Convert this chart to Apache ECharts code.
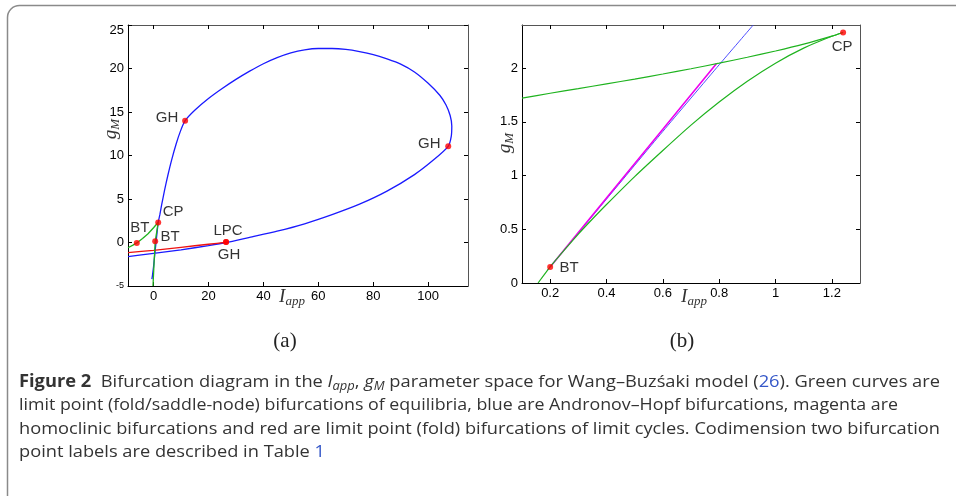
<!DOCTYPE html>
<html><head><meta charset="utf-8">
<script src="https://cdn.jsdelivr.net/npm/echarts@6/dist/echarts.min.js"></script>
<style>html,body{margin:0;padding:0;background:#fff}#c{width:956px;height:496px}</style>
</head><body><div id="c"></div>
<script>
// ---------- tick labels ----------
const xTicksA = [0, 20, 40, 60, 80, 100];
const yTicksA = [-5, 0, 5, 10, 15, 20, 25];
const xTicksB = [0.2, 0.4, 0.6, 0.8, 1, 1.2];
const yTicksB = [0, 0.5, 1, 1.5, 2];

// ---------- panel (a) curves ----------
const hopfA = [[-9.3,-1.62],[0,-1.25],[10,-0.85],[20,-0.35],[26.4,0],[35,0.6],[45,1.3],[55,2.15],[65,3.2],[75,4.4],[85,5.9],[95,7.8],[102,9.5],[107.3,11.05],[108.4,12.2],[108.6,13.4],[108.0,14.6],[106.5,15.8],[104.3,16.9],[100,18.3],[95,19.6],[90,20.5],[85,21.1],[80,21.6],[75,21.95],[70,22.2],[65,22.3],[60,22.3],[55,22.15],[50,21.8],[45,21.25],[40,20.55],[35,19.7],[30,18.75],[25,17.7],[20,16.55],[15,15.2],[11.5,14.0],[9.8,12.8],[8.2,11.3],[6.6,9.5],[5.2,7.7],[4.0,6.0],[3.0,4.4],[2.3,3.2],[1.7,2.31],[1.1,0.6],[0.5,-1.2],[0,-2.8],[-0.4,-3.8],[-0.6,-4.2]];
const lpcA = [[-9.3,-1.17],[0,-0.9],[10,-0.55],[20,-0.2],[26.4,0.03]];
const foldA = [[-9.3,-0.6],[-7.5,-0.3],[-6.1,-0.05],[-4,0.45],[-2,1.0],[0,1.7],[1.7,2.33],[1.2,1.3],[0.6,0.12],[0.2,-2.3],[-0.2,-5]];
const bifPtsA = [[-6.1,-0.07],[0.6,0.15],[1.7,2.31],[26.4,0.05],[26.4,0.05],[11.5,14.0],[107.3,11.05]];
const bifNamesA = ['BT','BT','CP','LPC','GH','GH','GH'];

// ---------- panel (b) curves ----------
const foldUpperB = [[0.1,1.72],[0.2,1.765],[0.3,1.808],[0.4,1.852],[0.5,1.897],[0.6,1.944],[0.7,1.993],[0.8,2.045],[0.9,2.10],[1.0,2.158],[1.1,2.222],[1.2,2.296],[1.24,2.33]];
const foldLowerB = [[1.24,2.33],[1.2,2.295],[1.1,2.185],[1.0,2.045],[0.9,1.877],[0.8,1.684],[0.7,1.469],[0.6,1.233],[0.5,0.99],[0.4,0.73],[0.35,0.595],[0.3,0.455],[0.25,0.305],[0.2,0.15],[0.157,0]];
const homB = [[0.2,0.148],[0.4,0.79],[0.6,1.43],[0.79,2.04]];
const hopfB = [[0.19,0.12],[0.4,0.78],[0.6,1.41],[0.8,2.03],[0.921,2.4]];
const bifPtsB = [[0.2,0.148],[1.24,2.33]];
const bifNamesB = ['BT','CP'];

// ---------- caption text ----------
const captionLines = [
  [['Figure 2','b'],['  Bifurcation diagram in the ',''],['I','i'],['app','sub'],[', ',''],['g','i'],['M','sub'],[' parameter space for Wang\u2013Buz\u015baki model (',''],['26','link'],['). Green curves are','']],
  [['limit point (fold/saddle-node) bifurcations of equilibria, blue are Andronov\u2013Hopf bifurcations, magenta are','']],
  [['homoclinic bifurcations and red are limit point (fold) bifurcations of limit cycles. Codimension two bifurcation','']],
  [['point labels are described in Table ',''],['1','link']]
];
const panelTags = ['(a)', '(b)'];

// ---------- styling / layout ----------
const labelOffsetsA = [[3,-15],[15,-4],[15,-11],[2,-11],[3,13],[-18,-3],[-19,-3]];
const labelOffsetsB = [[19,1],[-1,14]];
const captionTargets = [[19,940,382],[19,898,405.5],[19,940,429],[19,325,452.5]];

const chart = echarts.init(document.getElementById('c'), null, {renderer:'canvas'});
const SANS = '"Liberation Sans", Arial, sans-serif';
const tickFont = {fontFamily:SANS, fontSize:13, color:'#000'};

function xAx(gi, min, max, ticks, pos, show) {
  return {type:'value', gridIndex:gi, min:min, max:max, position:pos,
    axisLine:{show:true, onZero:false, lineStyle:{color: show ? '#000' : '#555', width:1}},
    axisTick:{show:true, inside:true, length:4, customValues:ticks, lineStyle:{color:'#000'}},
    axisLabel:{show:show, customValues:ticks, margin:4, ...tickFont},
    splitLine:{show:false}};
}
function yAx(gi, min, max, ticks, pos, show, rich) {
  return {type:'value', gridIndex:gi, min:min, max:max, position:pos,
    axisLine:{show:true, onZero:false, lineStyle:{color: show ? '#000' : '#555', width:1}},
    axisTick:{show:true, inside:true, length:4, customValues:ticks, lineStyle:{color:'#000'}},
    axisLabel:{show:show, customValues:ticks, margin:4, ...tickFont,
      formatter: rich ? (v => v === -5 ? '{s|-5}' : (v === 25 ? '{t|25}' : String(v))) : undefined,
      rich: rich ? {s:{fontSize:9, fontFamily:SANS, color:'#000'},
                    t:{fontSize:13, fontFamily:SANS, color:'#000', padding:[11,0,0,0]}} : undefined},
    splitLine:{show:false}};
}
function line(data, color, w, xi, yi, z, sm) {
  return {type:'line', data:data, xAxisIndex:xi, yAxisIndex:yi, showSymbol:false, symbol:'none',
    smooth:sm, lineStyle:{color:color, width:w}, z:z, silent:true, clip:true};
}
function pts(data, names, offs, xi, yi) {
  return {type:'scatter', xAxisIndex:xi, yAxisIndex:yi, symbolSize:6, z:10,
    itemStyle:{color:'#ff0000'},
    data: data.map((p,i) => ({value:p, name:names[i],
      label:{show:true, position:'inside', offset:offs[i], formatter:names[i],
        fontFamily:SANS, fontSize:15, color:'#000'}}))};
}

// caption graphic elements
const CF = '"Open Sans", sans-serif';
const FS = 17;
const capFonts = {'':FS+'px "Open Sans"', b:'bold '+FS+'px "Open Sans"', i:'italic '+FS+'px "Open Sans"', sub:'italic 12px "Open Sans"', link:FS+'px "Open Sans"'};
const mctx = document.createElement('canvas').getContext('2d');
const capElems = captionLines.map((segs, li) => {
  let w = 0;
  segs.forEach(([t,k]) => { mctx.font = capFonts[k]; w += mctx.measureText(t).width; });
  const [x0, x1, yc] = captionTargets[li];
  const sx = (x1 - x0) / w;
  const txt = segs.map(([t,k]) => k ? '{' + k + '|' + t + '}' : t).join('');
  return {type:'text', x:x0, y:yc, scaleX:sx, originX:0, originY:0, silent:true,
    style:{text:txt, fontFamily:CF, fontSize:FS, lineHeight:22, fill:'#333',
      align:'left', verticalAlign:'middle',
      rich:{
        b:{fontWeight:'bold', fontFamily:CF, fontSize:FS, lineHeight:22, fill:'#333'},
        i:{fontStyle:'italic', fontFamily:CF, fontSize:FS, lineHeight:22, fill:'#333'},
        sub:{fontStyle:'italic', fontFamily:CF, fontSize:12, lineHeight:12, verticalAlign:'bottom', fill:'#333'},
        link:{fontFamily:CF, fontSize:FS, lineHeight:22, fill:'#3557c8'}
      }}};
});

const serifIt = {fontFamily:'"Liberation Serif", "DejaVu Serif", serif', fontStyle:'italic', fill:'#333'};
function axName(x, y, main, sub, rot) {
  return {type:'text', x:x, y:y, rotation:rot, silent:true,
    style:{text:'{m|' + main + '}{s|' + sub + '}', align:'center', verticalAlign:'middle',
      rich:{m:{...serifIt, fontSize:19, lineHeight:22}, s:{...serifIt, fontSize:13, lineHeight:14, verticalAlign:'bottom'}}}};
}

const option = {
  animation:false,
  backgroundColor:'#fff',
  grid:[
    {left:128, top:25, width:340, height:261, containLabel:false},
    {left:522, top:25, width:338, height:258, containLabel:false}
  ],
  xAxis:[
    xAx(0, -9.3, 114.5, xTicksA, 'bottom', true),
    xAx(0, -9.3, 114.5, xTicksA, 'top', false),
    xAx(1, 0.1, 1.3, xTicksB, 'bottom', true),
    xAx(1, 0.1, 1.3, xTicksB, 'top', false)
  ],
  yAxis:[
    yAx(0, -5, 25, yTicksA, 'left', true, true),
    yAx(0, -5, 25, yTicksA, 'right', false, false),
    yAx(1, 0, 2.4, yTicksB, 'left', true, false),
    yAx(1, 0, 2.4, yTicksB, 'right', false, false)
  ],
  series:[
    line(hopfA, '#1a1aff', 1.3, 0, 0, 2, 0.2),
    line(lpcA, '#ee1111', 1.3, 0, 0, 3, 0.2),
    line(foldA, '#1fb31f', 1.3, 0, 0, 4, false),
    pts(bifPtsA, bifNamesA, labelOffsetsA, 0, 0),
    line(hopfB, '#3a3aff', 0.9, 2, 2, 2, 0.2),
    line(homB, '#ee00ee', 1.6, 2, 2, 3, false),
    line(foldUpperB, '#1fb31f', 1.2, 2, 2, 4, 0.2),
    line(foldLowerB, '#1fb31f', 1.2, 2, 2, 4, 0.2),
    pts(bifPtsB, bifNamesB, labelOffsetsB, 2, 2)
  ],
  graphic:[
    {type:'rect', silent:true, shape:{x:7.5, y:5.5, width:1000, height:600, r:12},
      style:{fill:'none', stroke:'#8a8a8a', lineWidth:1.5}},
    axName(292, 297, 'I', 'app', 0),
    axName(694, 297, 'I', 'app', 0),
    axName(111, 129, 'g', 'M', Math.PI/2),
    axName(505, 143, 'g', 'M', Math.PI/2),
    {type:'text', x:285, y:341, silent:true, style:{text:panelTags[0], align:'center', verticalAlign:'middle', fontFamily:'"Liberation Serif", serif', fontSize:21, fill:'#222'}},
    {type:'text', x:682, y:341, silent:true, style:{text:panelTags[1], align:'center', verticalAlign:'middle', fontFamily:'"Liberation Serif", serif', fontSize:21, fill:'#222'}},
    ...capElems
  ]
};
chart.setOption(option);
</script></body></html>
